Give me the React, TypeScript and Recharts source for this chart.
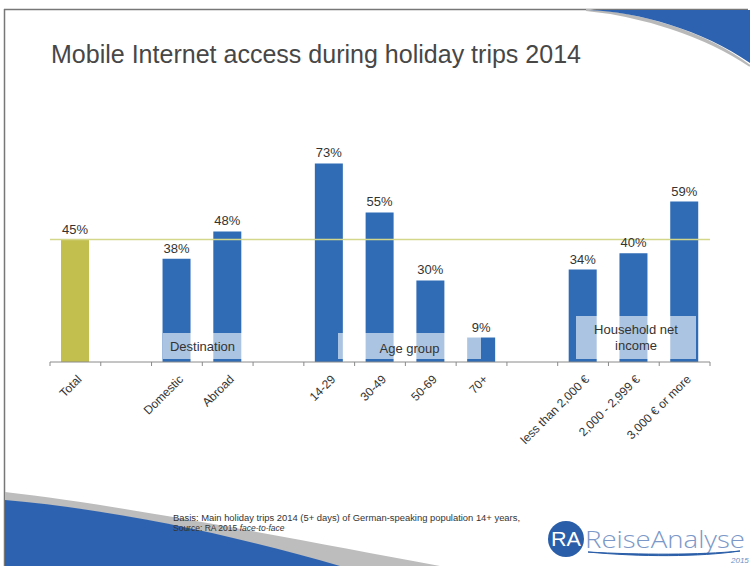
import { BarChart, Bar, XAxis, YAxis, ReferenceLine, LabelList, Cell } from "recharts";

const categories = [
  "Total", "gap1", "Domestic", "Abroad", "gap2",
  "14-29", "30-49", "50-69", "70+", "gap3",
  "less than 2,000 €", "2,000 - 2,999 €", "3,000 € or more",
];
const shares = [45, null, 38, 48, null, 73, 55, 30, 9, null, 34, 40, 59];
const totalShare = 45;
const groupLabels = ["Destination", "Age group", "Household net income"];

const data = categories.map((c, i) => ({ name: c, value: shares[i] }));

const BLUE = "#2f6cb5";
const OLIVE = "#c3bf4f";
const BAND = 660 / categories.length;
const FONT = "Liberation Sans, Arial, sans-serif";

function CatTick(props: any) {
  const { x, y, payload, index } = props;
  const label = String(payload.value).startsWith("gap") ? "" : payload.value;
  const left = x - BAND / 2;
  return (
    <g>
      <line x1={left} y1={y} x2={left} y2={y + 4} stroke="#8a8a8a" />
      {index === categories.length - 1 && (
        <line x1={x + BAND / 2} y1={y} x2={x + BAND / 2} y2={y + 4} stroke="#8a8a8a" />
      )}
      <text
        transform={`translate(${x + 7},${y + 18}) rotate(-45)`}
        textAnchor="end"
        fontSize={12}
        fill="#333"
        fontFamily={FONT}
      >
        {label}
      </text>
    </g>
  );
}

const boxStyle = {
  position: "absolute" as const,
  background: "rgba(255,255,255,0.6)",
  color: "#333",
  fontSize: 13,
  fontFamily: FONT,
  display: "flex",
  alignItems: "center",
  justifyContent: "center",
  textAlign: "center" as const,
  lineHeight: "16px",
};

export default function App() {
  return (
    <div style={{ position: "absolute", left: 0, top: 0, width: 750, height: 566, background: "#fff", overflow: "hidden" }}>
      <svg width={750} height={566} style={{ position: "absolute", left: 0, top: 0 }}>
        <line x1={4} y1={9.5} x2={748} y2={9.5} stroke="#777" strokeWidth={1.5} />
        <line x1={4.5} y1={9} x2={4.5} y2={566} stroke="#777" strokeWidth={1.5} />
        <path d="M 586 10 C 640 13, 705 32, 750 66 L 750 66 C 705 35, 640 15, 586 10 Z" fill="#b9b9b9" stroke="#b9b9b9" strokeWidth={2} />
        <path d="M 588 10 C 640 12, 702 30, 750 63 L 750 10 Z" fill="#2d62b0" />
        <path d="M 5 492 C 120 505, 290 538, 440 566 L 5 566 Z" fill="#bdbdbd" />
        <path d="M 5 500 C 120 510, 240 537, 340 566 L 5 566 Z" fill="#2d62b0" />
        <text x={51} y={63} fontSize={25} fill="#474747" fontFamily={FONT} textLength={530} lengthAdjust="spacingAndGlyphs">
          Mobile Internet access during holiday trips 2014
        </text>
        <text x={173} y={521} fontSize={8.5} fill="#333" fontFamily={FONT} textLength={347} lengthAdjust="spacingAndGlyphs">
          Basis: Main holiday trips 2014 (5+ days) of German-speaking population 14+ years,
        </text>
        <text x={173} y={531} fontSize={8.5} fill="#333" fontFamily={FONT}>
          Source: RA 2015 <tspan fontStyle="italic">face-to-face</tspan>
        </text>
        <circle cx={566} cy={539} r={18} fill="#2a5ea8" />
        <text x={566} y={546} textAnchor="middle" fontSize={20} fill="#fff" fontFamily={FONT} textLength={30} lengthAdjust="spacingAndGlyphs">
          RA
        </text>
        <text x={585} y={548} fontSize={23} fill="#7c98c8" fontFamily="Open Sans, Liberation Sans, sans-serif" fontWeight={300} textLength={160} lengthAdjust="spacingAndGlyphs">
          ReiseAnalyse
        </text>
        <path d="M 588 552 C 640 557, 700 557, 740 551 C 700 555, 640 555, 588 552 Z" fill="#2a5ea8" stroke="#2a5ea8" strokeWidth={1} />
        <text x={731} y={563} fontSize={8} fontStyle="italic" fill="#7090c4" fontFamily={FONT}>
          2015
        </text>
      </svg>

      <div style={{ position: "absolute", left: 0, top: 0 }}>
        <BarChart width={750} height={566} data={data} margin={{ top: 90, right: 40, left: 50, bottom: 174 }} barCategoryGap="0%">
          <XAxis
            dataKey="name"
            interval={0}
            height={30}
            tickLine={false}
            tickSize={0}
            tickMargin={0}
            axisLine={{ stroke: "#8a8a8a" }}
            tick={<CatTick />}
          />
          <YAxis hide domain={[0, 100]} />
          <ReferenceLine y={totalShare} stroke="#d4d68a" strokeWidth={1.5} />
          <Bar dataKey="value" barSize={28} isAnimationActive={false}>
            {data.map((d, i) => (
              <Cell key={i} fill={d.name === "Total" ? OLIVE : BLUE} />
            ))}
            <LabelList
              dataKey="value"
              position="top"
              offset={6}
              formatter={(v: any) => (v == null ? "" : `${v}%`)}
              style={{ fontSize: 13, fill: "#333", fontFamily: FONT }}
            />
          </Bar>
        </BarChart>
      </div>

      <div style={{ ...boxStyle, left: 163, top: 333, width: 79, height: 26, paddingTop: 2, boxSizing: "border-box" }}>{groupLabels[0]}</div>
      <div style={{ ...boxStyle, left: 338, top: 333, width: 143, height: 26, paddingTop: 5, boxSizing: "border-box" }}>{groupLabels[1]}</div>
      <div style={{ ...boxStyle, left: 576, top: 316, width: 120, height: 43, padding: "0 10px", boxSizing: "border-box" }}>{groupLabels[2]}</div>
    </div>
  );
}
